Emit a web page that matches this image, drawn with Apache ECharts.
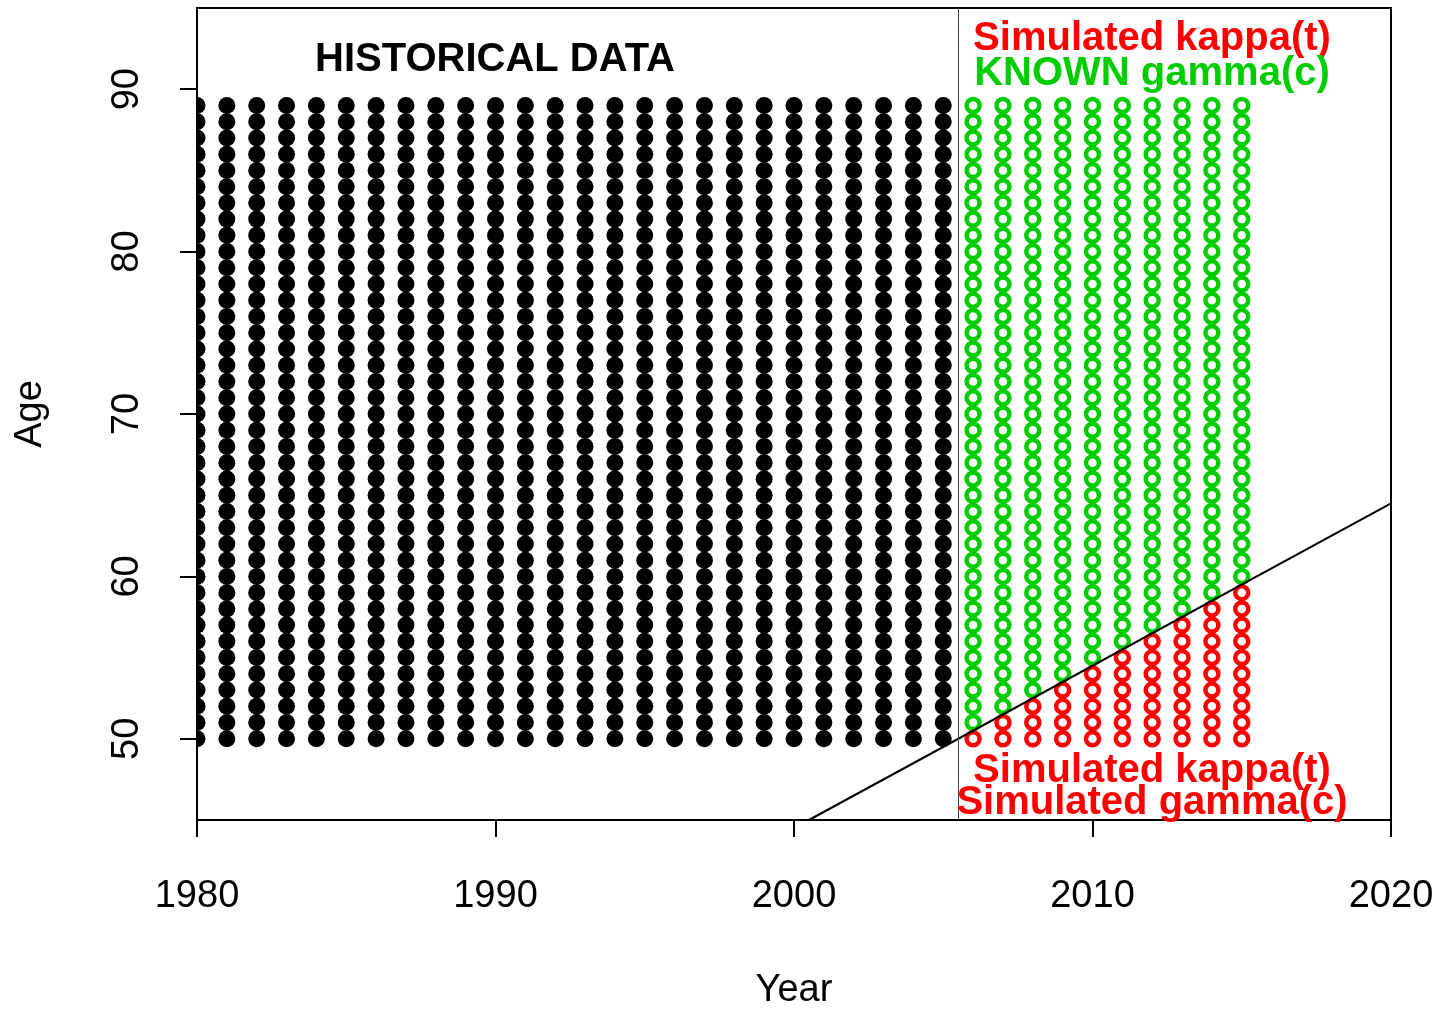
<!DOCTYPE html>
<html>
<head>
<meta charset="utf-8">
<title>Age x Year</title>
<script src="https://cdn.jsdelivr.net/npm/echarts@6/dist/echarts.min.js"></script>
<style>
  html, body { margin: 0; padding: 0; background: #fff; }
  #main { width: 1442px; height: 1009px; }
</style>
</head>
<body>
<div id="main"></div>
<script>
// 历史数据的年份
var histYears = [1980, 1981, 1982, 1983, 1984, 1985, 1986, 1987, 1988, 1989,
  1990, 1991, 1992, 1993, 1994, 1995, 1996, 1997, 1998, 1999,
  2000, 2001, 2002, 2003, 2004, 2005];
// 模拟的年份
var simYears = [2006, 2007, 2008, 2009, 2010, 2011, 2012, 2013, 2014, 2015];
// 年龄
var ages = [50, 51, 52, 53, 54, 55, 56, 57, 58, 59,
  60, 61, 62, 63, 64, 65, 66, 67, 68, 69,
  70, 71, 72, 73, 74, 75, 76, 77, 78, 79,
  80, 81, 82, 83, 84, 85, 86, 87, 88, 89];
// 每个模拟年份中红点（simulated gamma）的最大年龄
var redMaxAge = [50, 51, 52, 53, 54, 55, 56, 57, 58, 59];
// 对角线（队列边界）
var cohortLine = [[2000.5, 45], [2020, 64.5]];
// 分隔线
var splitYear = 2005.5;
// 刻度
var xTicks = [1980, 1990, 2000, 2010, 2020];
var yTicks = [50, 60, 70, 80, 90];

var black = [], green = [], red = [];
histYears.forEach(function (y) {
  ages.forEach(function (a) { black.push([y, a]); });
});
simYears.forEach(function (y, i) {
  ages.forEach(function (a) {
    if (a <= redMaxAge[i]) red.push([y, a]);
    else green.push([y, a]);
  });
});

var font = 'Liberation Sans, Arial, Helvetica, sans-serif';
var chart = echarts.init(document.getElementById('main'));

// 注释文字
function note(text, color, x, y) {
  return {
    type: 'text', x: x, y: y, z: 20,
    style: { text: text, fill: color, font: 'bold 40px ' + font,
      textAlign: 'center', textVerticalAlign: 'middle' }
  };
}

var option = {
  animation: false,
  grid: {
    left: 197, right: 51, top: 8, bottom: 189,
    show: true, borderColor: '#000', borderWidth: 2,
    containLabel: false,
    outerBoundsMode: 'none'
  },
  xAxis: {
    type: 'value',
    min: 1980, max: 2020, interval: 10,
    name: 'Year', nameLocation: 'middle', nameGap: 152,
    nameTextStyle: { fontSize: 38, color: '#000', fontFamily: font },
    axisLine: { show: true, lineStyle: { color: '#000', width: 2 } },
    axisTick: { show: true, length: 17, lineStyle: { color: '#000', width: 2 } },
    axisLabel: { fontSize: 38, color: '#000', margin: 58, fontFamily: font,
      customValues: xTicks,
      formatter: function (v) { return String(v); } },
    splitLine: { show: false }
  },
  yAxis: {
    type: 'value',
    min: 45, max: 95,
    name: 'Age', nameLocation: 'middle', nameGap: 147,
    nameTextStyle: { fontSize: 38, color: '#000', fontFamily: font },
    axisLine: { show: false },
    axisTick: { show: true, length: 17, customValues: yTicks,
      lineStyle: { color: '#000', width: 2 } },
    axisLabel: { fontSize: 38, color: '#000', margin: 50, rotate: 90,
      fontFamily: font, customValues: yTicks },
    splitLine: { show: false }
  },
  series: [{
    // 历史数据：实心黑点，裁剪到绘图区
    name: 'historical',
    type: 'custom',
    clip: true,
    renderItem: function (params, api) {
      var p = api.coord([api.value(0), api.value(1)]);
      return {
        type: 'circle',
        shape: { cx: p[0], cy: p[1], r: 8.5 },
        style: { fill: '#000' }
      };
    },
    encode: { x: 0, y: 1 },
    data: black
  }, {
    name: 'known gamma',
    type: 'scatter',
    symbol: 'circle',
    symbolSize: 13,
    itemStyle: { color: '#fff', borderColor: '#00CD00', borderWidth: 4.5, opacity: 1 },
    data: green
  }, {
    name: 'simulated gamma',
    type: 'scatter',
    symbol: 'circle',
    symbolSize: 13,
    itemStyle: { color: '#fff', borderColor: '#FF0000', borderWidth: 4.5, opacity: 1 },
    data: red
  }, {
    name: 'cohort',
    type: 'line',
    symbol: 'none',
    lineStyle: { color: '#000', width: 2 },
    data: cohortLine,
    markLine: {
      silent: true,
      symbol: 'none',
      label: { show: false },
      lineStyle: { color: '#444', width: 1, type: 'solid' },
      data: [{ xAxis: splitYear }]
    }
  }],
  graphic: [
    note('HISTORICAL DATA', '#000', 495, 60),
    note('Simulated kappa(t)', '#FF0000', 1152, 39),
    note('KNOWN gamma(c)', '#00CD00', 1152, 74),
    note('Simulated kappa(t)', '#FF0000', 1152, 771),
    note('Simulated gamma(c)', '#FF0000', 1152, 803)
  ]
};
chart.setOption(option);
</script>
</body>
</html>
